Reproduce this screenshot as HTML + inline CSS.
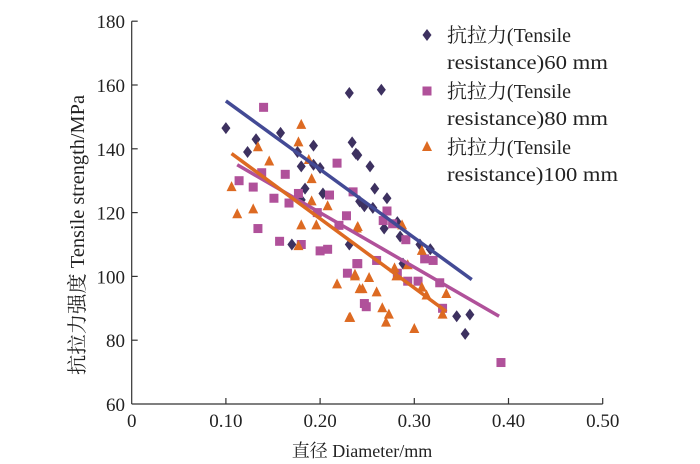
<!DOCTYPE html>
<html><head><meta charset="utf-8"><style>
html,body{margin:0;padding:0;background:#fff;}
svg{display:block;font-family:"Liberation Serif","Noto Serif CJK SC",serif;}
</style></head><body>
<svg id="chart" width="700" height="464" viewBox="0 0 700 464" xmlns="http://www.w3.org/2000/svg">
<g id="axes"></g><g id="marks"></g><g id="legend"></g>
</svg>
<script>
const xTicks=[0,0.10,0.20,0.30,0.40,0.50];
const xTickLabels=["0","0.10","0.20","0.30","0.40","0.50"];
const yTicks=[60,80,100,120,140,160,180];
const s60x=[0.100,0.123,0.132,0.158,0.176,0.180,0.193,0.203,0.231,0.265,0.234,0.238,0.253,0.258,0.242,0.247,0.256,0.271,0.268,0.282,0.285,0.306,0.317,0.288,0.345,0.359,0.354,0.170,0.231,0.184,0.180,0.193,0.200,0.240];
const s60y=[146.5,139,143,145,139,134.5,135,126,157.5,158.5,142,138.5,134.5,127.5,123.5,122,121.5,124.5,115,117,112.5,110,108.5,104,87.5,88,82,110,110,127.5,124,141,134,138];
const s80x=[0.140,0.218,0.138,0.114,0.129,0.163,0.151,0.177,0.167,0.210,0.197,0.228,0.220,0.134,0.157,0.180,0.200,0.208,0.240,0.229,0.247,0.235,0.271,0.267,0.277,0.291,0.311,0.320,0.239,0.260,0.282,0.293,0.304,0.327,0.330,0.249,0.392];
const s80y=[153,135.5,132.5,130,128,132,124.5,126,123,125.5,120,119,116,115,111,110,108,108.5,104,101,91.5,126.5,120.5,117.5,116.5,111.5,105.5,105,104,105,101,98.5,98.5,98,90,90.5,73];
const s100x=[0.180,0.177,0.134,0.146,0.188,0.191,0.106,0.129,0.112,0.191,0.208,0.240,0.180,0.196,0.177,0.218,0.237,0.242,0.232,0.239,0.287,0.308,0.279,0.293,0.334,0.308,0.313,0.330,0.237,0.252,0.245,0.260,0.231,0.266,0.273,0.270,0.300,0.281];
const s100y=[147.5,142,140.5,136,136.5,130.5,128,121,119.5,123.5,122,115.5,116,116,109.5,97.5,100,96,87,115,116,108,102.5,103.5,94.5,96.5,94,88,100.5,99.5,96,95,87,90,88,85.5,83.5,100];
const fitX0=[0.100,0.112,0.106];
const fitY0=[155,135,138.5];
const fitX1=[0.361,0.390,0.334];
const fitY1=[99,87.5,89];
const seriesNames=["resistance)60 mm","resistance)80 mm","resistance)100 mm"];
const NS="http://www.w3.org/2000/svg";
const X=v=>131.7+v*942;
const Y=v=>404-(v-60)*3.19;
function mk(tag,attrs,parent){const e=document.createElementNS(NS,tag);for(const k in attrs)e.setAttribute(k,attrs[k]);parent.appendChild(e);return e;}
const axes=document.getElementById('axes'),marks=document.getElementById('marks'),legend=document.getElementById('legend');
let a=mk('line',{x1:X(0),y1:Y(60),x2:X(0),y2:Y(180),stroke:'#333','stroke-width':1.2},axes);


a=mk('line',{x1:X(0),y1:Y(60),x2:X(0.5),y2:Y(60),stroke:'#333','stroke-width':1.2},axes);


xTicks.forEach((t,i)=>{
 if(i>0){const l=mk('line',{x1:X(t),y1:Y(60),x2:X(t),y2:Y(60)-6,stroke:'#333','stroke-width':1.2},axes);
 
 }
 const tx=mk('text',{x:X(t),y:427,'font-size':19,'text-anchor':'middle',fill:'#222'},axes);tx.textContent=xTickLabels[i];
 
 
});
yTicks.forEach(t=>{
 if(t>60){const l=mk('line',{x1:X(0),y1:Y(t),x2:X(0)+6,y2:Y(t),stroke:'#333','stroke-width':1.2},axes);
 
 }
 const tx=mk('text',{x:125,y:Y(t)+7,'font-size':19,'text-anchor':'end',fill:'#222'},axes);tx.textContent=t;
 
 
});
let t=mk('text',{x:362,y:457,'font-size':18,'text-anchor':'middle',fill:'#222'},axes);t.textContent='直径 Diameter/mm';


t=mk('text',{x:0,y:0,'font-size':20,'text-anchor':'middle',textLength:280,lengthAdjust:'spacingAndGlyphs',fill:'#222',transform:'translate(84,235) rotate(-90)'},axes);t.textContent='抗拉力强度 Tensile strength/MPa';


const colors=['#3d3160','#b0519a','#dd6a22'];
const lineColors=['#434a95','#b0519a','#dd6a22'];
function marker(type,cx,cy,parent){
 if(type===0)return mk('path',{d:`M${cx} ${cy-6}L${cx+4.5} ${cy}L${cx} ${cy+6}L${cx-4.5} ${cy}Z`,fill:colors[0]},parent);
 if(type===1)return mk('rect',{x:cx-4.5,y:cy-4.5,width:9,height:9,fill:colors[1]},parent);
 return mk('path',{d:`M${cx} ${cy-6}L${cx+5} ${cy+4}L${cx-5} ${cy+4}Z`,fill:colors[2]},parent);
}
[[s60x,s60y],[s80x,s80y],[s100x,s100y]].forEach((s,k)=>{
 s[0].forEach((xv,i)=>{const m=marker(k,X(xv),Y(s[1][i]),marks);
 
 });
});
for(let k=0;k<3;k++){
 const l=mk('line',{x1:X(fitX0[k]),y1:Y(fitY0[k]),x2:X(fitX1[k]),y2:Y(fitY1[k]),stroke:lineColors[k],'stroke-width':3.5},marks);
 
 
}
seriesNames.forEach((n,k)=>{
 const y0=35+k*56;
 const m=marker(k,427,y0,legend);
 
 
 const t1=mk('text',{x:447,y:y0+7,'font-size':20,fill:'#222',textLength:124,lengthAdjust:'spacingAndGlyphs'},legend);t1.textContent='抗拉力(Tensile';
 
 
 const t2=mk('text',{x:447,y:y0+34,'font-size':20,fill:'#222',textLength:(k===2?171:161),lengthAdjust:'spacingAndGlyphs'},legend);t2.textContent=n;
 
 
});
</script>
</body></html>
